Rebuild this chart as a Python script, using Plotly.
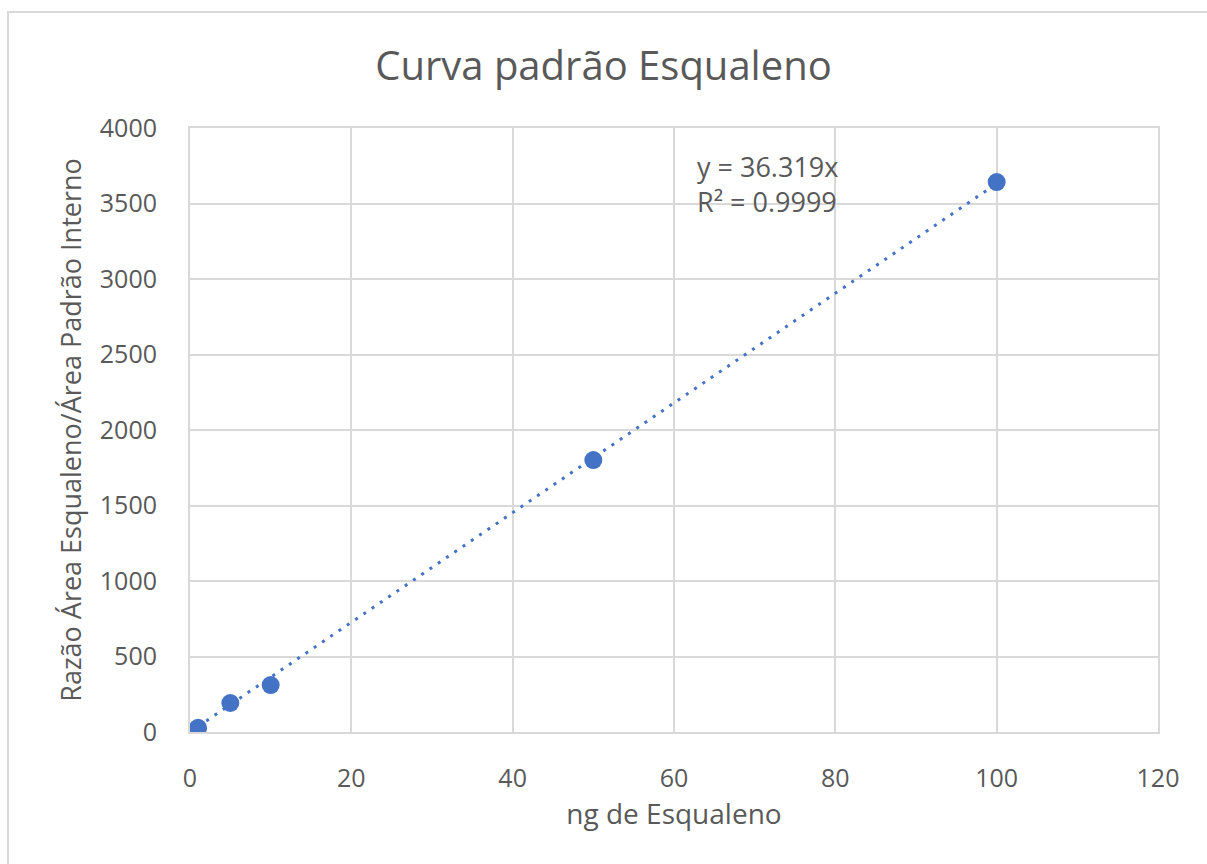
import plotly.graph_objects as go

x_vals = [1, 5, 10, 50, 100]
y_vals = [28, 192, 311, 1801, 3642]
slope = 36.319
trend_x = [1, 100]
title_text = "Curva padrão Esqualeno"
x_title = "ng de Esqualeno"
y_title = "Razão Área Esqualeno/Área Padrão Interno"
eq_text = "y = 36.319x<br>R² = 0.9999"

blue = "#4472C4"
txt = "#595959"
grid = "#D9D9D9"
font = "Open Sans"

fig = go.Figure()
fig.add_trace(go.Scatter(
    x=trend_x, y=[slope * v for v in trend_x], mode="lines",
    line=dict(color=blue, width=3, dash="3px,7px"), hoverinfo="skip", showlegend=False))
fig.add_trace(go.Scatter(
    x=x_vals, y=y_vals, mode="markers",
    marker=dict(color=blue, size=18), showlegend=False))

W, H = 1207, 864
L, R, T, B = 190, 1158, 128, 732
pw, ph = R - L, B - T

def px(xp):
    return (xp - L) / pw

def py(yp):
    return (B - yp) / ph

fig.add_shape(type="rect", xref="paper", yref="paper",
              x0=px(8), x1=px(1230), y0=py(12), y1=py(900),
              line=dict(color="#D9D9D9", width=2), fillcolor="rgba(0,0,0,0)", layer="below")

fig.add_annotation(x=62.6, y=3880, xref="x", yref="y", text=eq_text, showarrow=False,
                   xanchor="left", yanchor="top", align="left",
                   font=dict(family=font, size=27, color=txt))

fig.update_layout(
    width=W, height=H,
    margin=dict(l=L, r=W - R, t=T, b=H - B),
    paper_bgcolor="white", plot_bgcolor="white",
    title=dict(text=title_text, x=0.5, xanchor="center", y=1 - 66 / H, yanchor="middle",
               font=dict(family=font, size=40, color=txt)),
    font=dict(family=font, color=txt),
)
fig.update_xaxes(range=[0, 120], dtick=20, showgrid=True, gridcolor=grid, gridwidth=2,
                 showline=True, linecolor=grid, linewidth=2, mirror=True, zeroline=False,
                 ticks="", ticklabelstandoff=23,
                 tickfont=dict(family=font, size=25, color=txt),
                 title=dict(text=x_title, font=dict(family=font, size=28, color=txt), standoff=10))
fig.update_yaxes(range=[0, 4000], dtick=500, showgrid=True, gridcolor=grid, gridwidth=2,
                 showline=True, linecolor=grid, linewidth=2, mirror=True, zeroline=False,
                 ticks="", ticklabelstandoff=26,
                 tickfont=dict(family=font, size=25, color=txt),
                 title=dict(text=y_title, font=dict(family=font, size=27, color=txt), standoff=10))

fig.write_html("out.html")
